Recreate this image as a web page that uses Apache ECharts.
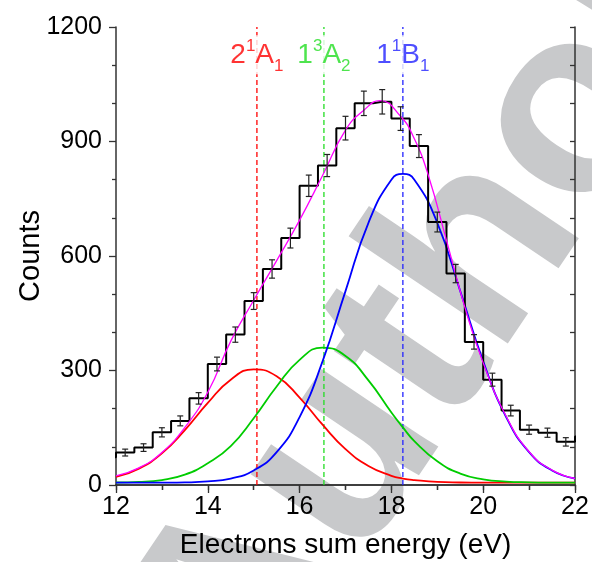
<!DOCTYPE html>
<html>
<head>
<meta charset="utf-8">
<script src="https://cdn.jsdelivr.net/npm/echarts@6/dist/echarts.min.js"></script>
<style>
  html, body { margin: 0; padding: 0; background: #fff; }
  #main { width: 592px; height: 562px; }
</style>
</head>
<body>
<div id="main"></div>
<script>
// histogram: bin centres (eV), counts and error bars
const binCenters = [11.8, 12.2, 12.6, 13.0, 13.4, 13.8, 14.2, 14.6, 15.0, 15.4, 15.8, 16.2, 16.6, 17.0,
  17.4, 17.8, 18.2, 18.6, 19.0, 19.4, 19.8, 20.2, 20.6, 21.0, 21.4, 21.8, 22.2];
const binCounts = [73, 85, 98, 138, 168, 227, 317, 394, 482, 566, 647, 784, 837, 935,
  1000, 1004, 960, 888, 689, 554, 375, 276, 195, 145, 137, 113, 127];
const binErrors = [9, 9, 10, 12, 13, 15, 18, 20, 22, 24, 26, 28, 29, 31,
  32, 32, 31, 30, 26, 24, 19, 17, 14, 12, 12, 11, 11];

// gaussian components
const compX = [12, 12.5, 13, 13.5, 14, 14.5, 15, 15.5, 16, 16.5, 17, 17.5, 18, 18.25, 18.5, 19, 19.5, 20, 20.5, 21, 21.5, 22];
const redY = [21, 43, 83, 144, 215, 276, 303, 285, 229, 158, 94, 50, 24, 17, 13, 8, 6.5, 6, 6, 6, 6, 6];
const greenY = [6.6, 8, 13, 27, 57, 102, 175, 258, 328, 360, 338, 274, 190, 151, 115, 62, 30, 15, 9, 7, 6.2, 6];
const blueY = [6, 6, 6.2, 6.8, 9.3, 17, 38, 86, 178, 324, 508, 687, 800, 815, 800, 687, 508, 324, 178, 86, 38, 17];

// total fit
const sumX = [12, 12.5, 13, 13.5, 14, 14.5, 15, 15.5, 16, 16.5, 17, 17.4, 17.75, 18.2, 18.5, 18.8, 19.2, 19.6, 20, 20.5, 21, 21.5, 22];
const sumY = [24, 45, 85, 151, 243, 377, 484, 588, 694, 811, 930, 982, 1007, 966, 907, 813, 641, 466, 320, 180, 87, 39, 17];

// states
const stateX = [15.07, 16.53, 18.25];
const stateLabels = ['{n|2}{sup|1}{n|A}{sub|1}', '{n|1}{sup|3}{n|A}{sub|2}', '{n|1}{sup|1}{n|B}{sub|1}'];
const stateColors = ['#ff0000', '#22dd22', '#2222ff'];
const labelY = 1127;

const FONT = '"Liberation Sans", Arial, sans-serif';
const pairs = (xs, ys) => xs.map((x, i) => [x, ys[i]]);

var myChart = echarts.init(document.getElementById('main'), null, { renderer: 'canvas' });

const axisLine = { show: true, lineStyle: { color: '#333', width: 1.5 } };
const series = [];

stateX.forEach((x, i) => {
  series.push({
    type: 'line',
    data: [[x, 0], [x, 1200]],
    symbol: 'none',
    silent: true,
    lineStyle: { color: stateColors[i], width: 1.3, type: [5, 3] },
    z: 1
  });
});

[[redY, '#ff0000'], [greenY, '#00cc00'], [blueY, '#0000ff']].forEach(c => {
  series.push({
    type: 'line',
    data: pairs(compX, c[0]),
    symbol: 'none',
    smooth: true,
    lineStyle: { color: c[1], width: 1.8 },
    z: 3
  });
});

series.push({
  type: 'line',
  data: pairs(binCenters, binCounts),
  step: 'middle',
  symbol: 'none',
  clip: false,
  lineStyle: { color: '#000', width: 2 },
  z: 4
});

series.push({
  type: 'line',
  data: pairs(sumX, sumY),
  symbol: 'none',
  smooth: true,
  lineStyle: { color: '#ff00ff', width: 1.3 },
  z: 5
});

series.push({
  type: 'custom',
  data: binCenters.map((x, i) => [x, binCounts[i], binErrors[i]]),
  renderItem: function (params, api) {
    const x = api.value(0), y = api.value(1), e = api.value(2);
    if (x < 12 || x > 22) return null;
    const top = api.coord([x, y + e]);
    const bot = api.coord([x, y - e]);
    const w = 3;
    const st = { stroke: '#222', lineWidth: 1.2 };
    return {
      type: 'group',
      children: [
        { type: 'line', shape: { x1: top[0], y1: top[1], x2: bot[0], y2: bot[1] }, style: st },
        { type: 'line', shape: { x1: top[0] - w, y1: top[1], x2: top[0] + w, y2: top[1] }, style: st },
        { type: 'line', shape: { x1: bot[0] - w, y1: bot[1], x2: bot[0] + w, y2: bot[1] }, style: st }
      ]
    };
  },
  z: 6
});

stateX.forEach((x, i) => {
  series.push({
    type: 'scatter',
    data: [[x, labelY]],
    symbolSize: 0,
    silent: true,
    z: 10,
    label: {
      show: true,
      position: 'inside',
      formatter: stateLabels[i],
      backgroundColor: '#fff',
      rich: {
        n: { fontSize: 28, fontFamily: FONT, color: stateColors[i] },
        sup: { fontSize: 17, fontFamily: FONT, color: stateColors[i], padding: [0, 0, 18, 0] },
        sub: { fontSize: 17, fontFamily: FONT, color: stateColors[i], padding: [22, 0, 0, 0] }
      }
    }
  });
});

var option = {
  animation: false,
  backgroundColor: '#fff',
  grid: { left: 116, right: 17, top: 27, bottom: 77, containLabel: false, outerBoundsMode: 'none' },
  graphic: [
    {
      type: 'text',
      x: 190,
      y: 684,
      rotation: 56 * Math.PI / 180,
      z: -10,
      silent: true,
      style: {
        text: 'Author',
        font: 'bold 265px ' + FONT,
        fill: '#c8c9cb',
        textAlign: 'left',
        textVerticalAlign: 'middle',
        align: 'left',
        verticalAlign: 'middle'
      }
    }
  ],
  xAxis: [
    {
      type: 'value', min: 12, max: 22, interval: 2, position: 'bottom',
      axisLine: axisLine,
      axisTick: { show: true, inside: false, length: 8, lineStyle: { color: '#333', width: 1.3 } },
      minorTick: { show: true, splitNumber: 2, length: 5, lineStyle: { color: '#333', width: 1.3 } },
      splitLine: { show: false },
      axisLabel: { fontSize: 25, color: '#000', fontFamily: FONT, margin: 10 },
      name: 'Electrons sum energy (eV)',
      nameLocation: 'middle',
      nameGap: 46,
      nameMoveOverlap: false,
      nameTextStyle: { fontSize: 28, color: '#000', fontFamily: FONT }
    },
    {
      type: 'value', min: 12, max: 22, interval: 1, position: 'top',
      axisLine: axisLine,
      axisTick: { show: true, inside: true, length: 5, lineStyle: { color: '#333', width: 1.3 } },
      splitLine: { show: false },
      axisLabel: { show: false }
    }
  ],
  yAxis: [
    {
      type: 'value', min: 0, max: 1200, interval: 300, position: 'left',
      axisLine: axisLine,
      axisTick: { show: true, inside: false, length: 7, lineStyle: { color: '#333', width: 1.3 } },
      minorTick: { show: true, splitNumber: 3, length: 4, lineStyle: { color: '#333', width: 1.3 } },
      splitLine: { show: false },
      axisLabel: { fontSize: 25, color: '#000', fontFamily: FONT, margin: 14, formatter: v => String(v) },
      name: 'Counts',
      nameLocation: 'middle',
      nameGap: 71,
      nameMoveOverlap: false,
      nameTextStyle: { fontSize: 29, color: '#000', fontFamily: FONT }
    },
    {
      type: 'value', min: 0, max: 1200, interval: 100, position: 'right',
      axisLine: axisLine,
      axisTick: { show: true, inside: true, length: 5, lineStyle: { color: '#333', width: 1.3 } },
      splitLine: { show: false },
      axisLabel: { show: false }
    }
  ],
  series: series
};

if (option && typeof option === 'object') {
  myChart.setOption(option);
}
window.addEventListener('resize', myChart.resize);
</script>
</body>
</html>
